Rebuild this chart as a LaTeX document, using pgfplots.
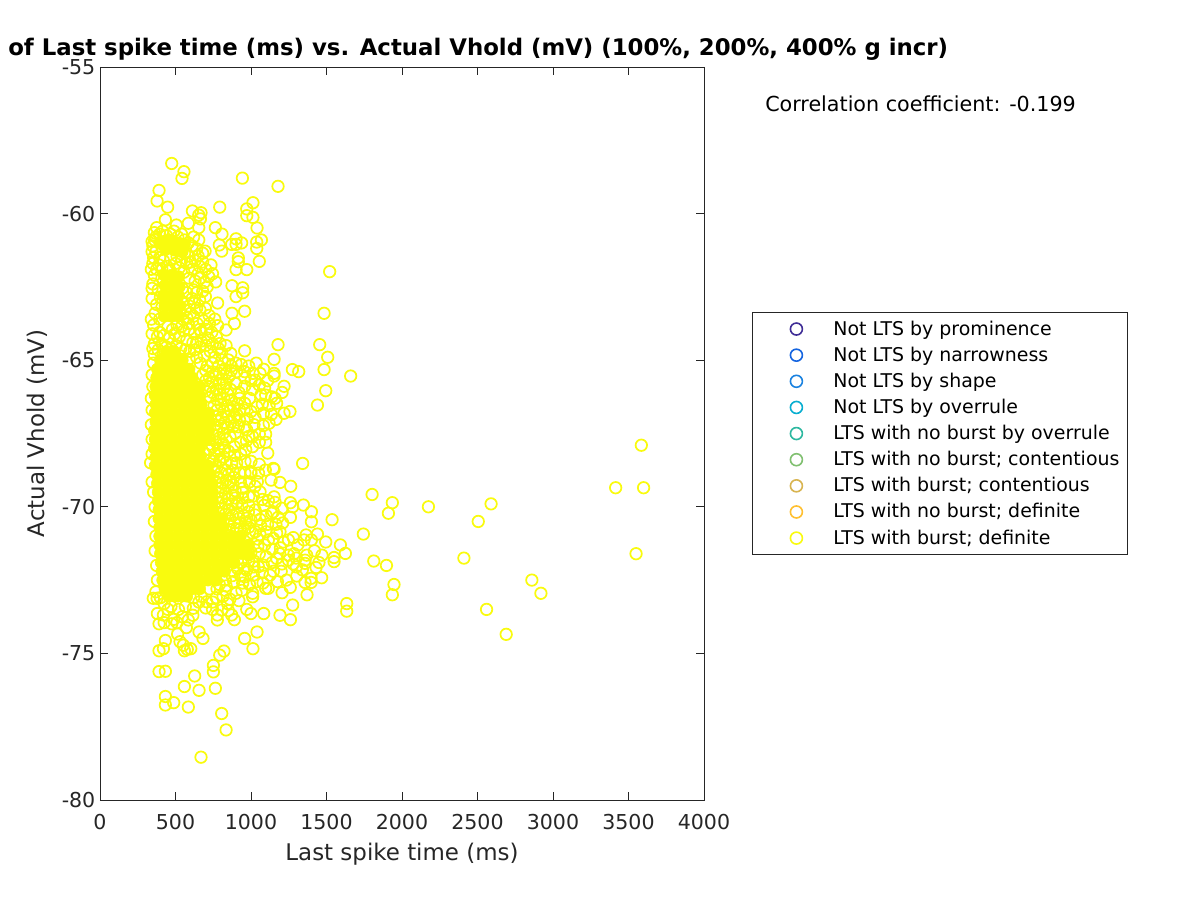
\documentclass[border=0pt]{standalone}
\usepackage{fontspec}
\setmainfont{DejaVu Sans}
\usepackage{pgfplots}
\pgfplotsset{compat=1.18}
\definecolor{txt}{HTML}{262626}
\definecolor{c1}{HTML}{3F2D96}
\definecolor{c2}{HTML}{1464E0}
\definecolor{c3}{HTML}{1A82E0}
\definecolor{c4}{HTML}{08AED0}
\definecolor{c5}{HTML}{2DB8A0}
\definecolor{c6}{HTML}{80C070}
\definecolor{c7}{HTML}{D8B450}
\definecolor{c8}{HTML}{FFC030}
\definecolor{c9}{HTML}{F9FB0E}
% 1 px of the reference = 0.75pt
\begin{document}
\begin{tikzpicture}[x=0.75pt,y=0.75pt]
\useasboundingbox (-100,-100) rectangle (1100,800);
\begin{axis}[
    at={(0,0)},anchor=south west,
    scale only axis,
    width=453pt,height=549.75pt,
    xmin=0,xmax=4000,ymin=-80,ymax=-55,
    xtick={0,500,...,4000},
    ytick={-80,-75,-70,-65,-60,-55},
    tick align=inside,
    major tick length=6pt,
    axis line style={color=txt,line width=0.6pt},
    every tick/.style={color=txt,line width=0.6pt},
    tick label style={font=\fontsize{15.4}{18}\selectfont,color=txt},
    xticklabel style={yshift=-7pt},
    /pgf/number format/assume math mode=true,
    /pgf/number format/1000 sep={},
    xlabel={Last spike time (ms)},
    ylabel={Actual Vhold (mV)},
    label style={font=\fontsize{17.2}{20}\selectfont,color=txt},
    xlabel style={yshift=-3.5pt},
    ylabel style={yshift=3.5pt},
    legend style={
        at={(1.0795,0.6658)},anchor=north west,
        font=\fontsize{14.2}{16}\selectfont,
        draw=txt,line width=0.6pt,
        inner xsep=5pt,inner ysep=4.5pt,
        row sep=3.6pt,
        nodes={inner sep=1pt,text height=11.5pt,text depth=2.5pt},
    },
    legend cell align=left,
    legend image code/.code={\path[draw=none,fill=none] (0pt,0pt)--(54.75pt,0pt);\draw[#1] plot coordinates {(28pt,0pt)};},
]
\addlegendimage{only marks,mark=o,mark size=4.5pt,c1,line width=1.2pt}
\addlegendentry{Not LTS by prominence}
\addlegendimage{only marks,mark=o,mark size=4.5pt,c2,line width=1.2pt}
\addlegendentry{Not LTS by narrowness}
\addlegendimage{only marks,mark=o,mark size=4.5pt,c3,line width=1.2pt}
\addlegendentry{Not LTS by shape}
\addlegendimage{only marks,mark=o,mark size=4.5pt,c4,line width=1.2pt}
\addlegendentry{Not LTS by overrule}
\addlegendimage{only marks,mark=o,mark size=4.5pt,c5,line width=1.2pt}
\addlegendentry{LTS with no burst by overrule}
\addlegendimage{only marks,mark=o,mark size=4.5pt,c6,line width=1.2pt}
\addlegendentry{LTS with no burst; contentious}
\addlegendimage{only marks,mark=o,mark size=4.5pt,c7,line width=1.2pt}
\addlegendentry{LTS with burst; contentious}
\addlegendimage{only marks,mark=o,mark size=4.5pt,c8,line width=1.2pt}
\addlegendentry{LTS with no burst; definite}
\addlegendimage{only marks,mark=o,mark size=4.5pt,c9,line width=1.2pt}
\addlegendentry{LTS with burst; definite}

% the packed part of the cloud, where single rings cannot be told apart
\addplot[forget plot,only marks,mark=*,mark size=4.5pt,color=c9,mark options={fill=c9}] coordinates {
(395,-61)(420,-60.95)(470,-60.9)(520,-61)(560,-61.05)(440,-61.2)(495,-61.25)(545,-61.3)
(425,-62.1)(475,-62.1)(520,-62.15)(430,-62.45)(480,-62.45)(525,-62.5)
(420,-62.8)(470,-62.8)(520,-62.8)(430,-63.15)(480,-63.15)(530,-63.15)
(425,-63.5)(475,-63.5)(520,-63.5)
(440,-64.7)(490,-64.7)
(400,-65)(450,-65)(500,-65)(545,-65)
(380,-65.3)(430,-65.3)(485,-65.3)(540,-65.3)(590,-65.3)
(375,-65.6)(435,-65.6)(495,-65.6)(555,-65.6)(610,-65.6)
(370,-65.9)(430,-65.9)(490,-65.9)(550,-65.9)(610,-65.9)(660,-65.9)
(365,-66.2)(425,-66.2)(485,-66.2)(545,-66.2)(605,-66.2)(660,-66.2)
(370,-66.5)(430,-66.5)(490,-66.5)(550,-66.5)(610,-66.5)(670,-66.5)
(365,-66.8)(425,-66.8)(485,-66.8)(545,-66.8)(605,-66.8)(665,-66.8)(720,-66.8)
(370,-67.1)(430,-67.1)(490,-67.1)(550,-67.1)(610,-67.1)(670,-67.1)(725,-67.1)
(360,-67.4)(420,-67.4)(480,-67.4)(540,-67.4)(600,-67.4)(660,-67.4)(720,-67.4)
(365,-67.7)(425,-67.7)(485,-67.7)(545,-67.7)(605,-67.7)(665,-67.7)(710,-67.7)
(360,-68)(420,-68)(480,-68)(540,-68)(600,-68)(660,-68)
(370,-68.3)(430,-68.3)(490,-68.3)(550,-68.3)(610,-68.3)(665,-68.3)
(365,-68.6)(425,-68.6)(485,-68.6)(545,-68.6)(605,-68.6)(665,-68.6)(715,-68.6)
(375,-68.9)(435,-68.9)(495,-68.9)(555,-68.9)(615,-68.9)(675,-68.9)(730,-68.9)
(380,-69.2)(440,-69.2)(500,-69.2)(560,-69.2)(620,-69.2)(680,-69.2)(740,-69.2)
(385,-69.5)(445,-69.5)(505,-69.5)(565,-69.5)(625,-69.5)(685,-69.5)(745,-69.5)
(385,-69.8)(445,-69.8)(505,-69.8)(565,-69.8)(625,-69.8)(685,-69.8)(745,-69.8)
(390,-70.1)(450,-70.1)(510,-70.1)(570,-70.1)(630,-70.1)(690,-70.1)(750,-70.1)
(390,-70.4)(450,-70.4)(510,-70.4)(570,-70.4)(630,-70.4)(690,-70.4)(750,-70.4)(805,-70.4)
(395,-70.7)(455,-70.7)(515,-70.7)(575,-70.7)(635,-70.7)(695,-70.7)(755,-70.7)(815,-70.7)
(395,-71)(455,-71)(515,-71)(575,-71)(635,-71)(695,-71)(755,-71)(815,-71)(875,-71)(930,-71)
(395,-71.3)(455,-71.3)(515,-71.3)(575,-71.3)(635,-71.3)(695,-71.3)(755,-71.3)(815,-71.3)(875,-71.3)(935,-71.3)(985,-71.3)
(400,-71.6)(460,-71.6)(520,-71.6)(580,-71.6)(640,-71.6)(700,-71.6)(760,-71.6)(820,-71.6)(880,-71.6)(940,-71.6)(985,-71.65)
(405,-71.9)(465,-71.9)(525,-71.9)(585,-71.9)(645,-71.9)(705,-71.9)(765,-71.9)(825,-71.9)(885,-71.9)
(410,-72.2)(470,-72.2)(530,-72.2)(590,-72.2)(650,-72.2)(710,-72.2)(770,-72.2)(825,-72.2)
(415,-72.5)(475,-72.5)(535,-72.5)(595,-72.5)(655,-72.5)(715,-72.5)(770,-72.5)
(430,-72.8)(490,-72.8)(550,-72.8)(610,-72.8)(660,-72.8)
(455,-73.05)(515,-73.05)(575,-73.05)
};
% single rings
\addplot[forget plot,only marks,mark=o,mark size=4.3pt,color=c9,line width=1.3pt] coordinates {
(3600,-69.35)(3585,-67.9)(3415,-69.35)(3550,-71.6)(2920,-72.95)(2860,-72.5)(2690,-74.35)(2560,-73.5)
(2590,-69.9)(2505,-70.5)(2410,-71.75)(2175,-70)
(475,-58.29)(556,-58.57)(543,-58.8)(943,-58.79)(1179,-59.07)(391,-59.21)(378,-59.57)(448,-59.78)(793,-59.78)
(1013,-59.63)(972,-59.84)(612,-59.91)(669,-59.97)(654,-60.05)(665,-60.18)(972,-60.07)(1013,-60.13)(433,-60.21)
(506,-60.39)(585,-60.33)(654,-60.48)(764,-60.48)(1040,-60.49)(808,-60.7)(375,-60.48)(654,-60.9)(901,-60.86)
(1069,-60.9)(1038,-60.97)(938,-61)(901,-61.05)(790,-61.07)(872,-61.05)(1038,-61.19)(806,-61.28)(696,-61.28)
(1055,-61.63)(916,-61.51)(916,-61.64)(901,-61.91)(972,-61.91)(1521,-61.98)(766,-62.33)(874,-62.46)(945,-62.53)
(945,-62.7)(901,-62.83)(698,-62.83)(779,-63.05)(1484,-63.4)(874,-63.4)(958,-63.33)(722,-63.47)(640,-63.23)
(662,-63.29)(698,-63.23)(890,-63.75)(779,-63.82)(835,-63.97)(643,-63.75)(585,-63.75)
(1179,-64.47)(1455,-64.47)(958,-64.68)(1508,-64.9)(1153,-64.97)(866,-64.77)(795,-64.43)(784,-64.6)(808,-64.99)
(850,-64.99)(1484,-65.32)(1660,-65.54)(1274,-65.32)(1316,-65.39)(1084,-65.31)(1153,-65.45)(1153,-65.54)
(1013,-65.45)(958,-65.39)(1027,-65.68)(905,-65.39)(1219,-65.89)(1206,-66.1)(1495,-66.04)(1440,-66.53)(958,-65.89)
(1066,-66.18)(1097,-66.19)(1137,-66.25)(1170,-66.47)(1159,-66.3)(958,-66.47)(1040,-66.59)(1258,-66.75)(1219,-66.81)
(1082,-66.81)(1027,-66.95)(1166,-67.02)(1082,-67.23)(958,-67.27)(916,-67.27)(972,-67.38)(1055,-67.52)(1097,-67.52)
(1055,-67.8)(1097,-67.8)(932,-67.8)(1111,-68.17)(932,-68.2)(861,-67.61)(784,-68.01)(1342,-68.52)(1148,-68.69)
(998,-68.8)(872,-68.52)(795,-68.4)
(1153,-68.72)(1000,-68.86)(1802,-69.58)(1936,-69.86)(1910,-70.22)(1537,-70.44)(1744,-70.93)(1813,-71.85)(1897,-72)
(1947,-72.65)(1936,-73)(1634,-73.3)(1634,-73.56)(1371,-73)(1276,-73.35)(1261,-73.85)(1192,-73.7)(1206,-72.93)
(1084,-73.64)(1000,-73.64)(972,-73.5)(1040,-74.27)(958,-74.49)(1013,-74.84)(890,-73.85)(821,-74.92)(793,-75.06)
(751,-75.41)(751,-75.63)(764,-76.19)(627,-75.77)(559,-76.13)(656,-76.26)(433,-75.61)(391,-75.62)(433,-76.47)
(433,-76.76)(488,-76.68)(585,-76.83)(806,-77.05)(835,-77.61)(669,-78.54)(391,-74.91)(420,-74.84)(433,-74.56)
(514,-74.34)(530,-74.6)(552,-74.72)(559,-74.91)(601,-74.84)(578,-74.86)(656,-74.27)(682,-74.49)(572,-74.12)
(585,-73.86)(391,-73.99)(475,-73.99)(488,-73.84)(777,-73.86)(777,-73.69)(850,-73.54)(872,-73.69)(806,-73.52)
(353,-73.12)(378,-73.12)(380,-73.64)(420,-73.69)(618,-73.46)(707,-73.24)(901,-72.95)(1011,-72.95)(1011,-73.07)
(1097,-72.78)(1115,-72.78)(1303,-72.36)(1358,-72.58)(1398,-72.58)(1398,-72.44)(1468,-72.42)(1431,-72.07)
(1358,-71.82)(1358,-71.93)(1369,-71.65)(1550,-71.87)(1550,-71.73)(1592,-71.3)(1625,-71.59)(1495,-71.2)(1440,-70.93)
(1400,-71.13)(1351,-71.13)(1365,-70.96)(1400,-70.17)(1400,-70.51)(1347,-69.94)(1276,-70)(1261,-69.86)(1261,-70.36)
(1179,-70.36)(1148,-70.17)(1137,-70.22)(1248,-71.13)(1192,-70.85)(1148,-71.08)(1170,-70.9)(1115,-71.13)(1248,-71.65)
(1248,-71.82)(1170,-71.76)(1148,-72.2)(1126,-72.33)(1049,-72.04)(1082,-71.99)(1016,-72.33)(960,-72.39)(972,-72.16)
(1133,-69.09)(1192,-69.17)(1263,-69.3)(1042,-69.14)(1027,-69.3)(1060,-69.49)(945,-69.37)(945,-69.51)(1153,-69.66)
(1115,-69.79)(1016,-69.63)(1027,-70.11)(1027,-70.28)(1060,-70.43)(983,-70.17)(972,-70.39)(905,-69.88)
% denser rings at the rim of the cloud
(362,-60.9)(350,-61.1)(345,-61.3)(355,-61.5)(370,-60.8)(395,-60.7)(415,-60.6)(440,-60.75)(465,-60.7)(490,-60.6)
(515,-60.8)(540,-60.7)(560,-60.9)(585,-61)(610,-61.1)(640,-61.2)(680,-61.35)(620,-60.8)(650,-61.45)(400,-61)(425,-61.1)
(370,-61.3)(395,-61.5)(350,-61.7)(375,-61.9)(360,-62.1)(410,-62.2)(350,-62.4)(385,-62.6)(345,-62.9)(375,-63.1)
(365,-63.4)(395,-63.6)(355,-63.8)(345,-64.1)(380,-64.2)(360,-64.45)(395,-64.05)(410,-63.2)(400,-62.85)
(540,-61.6)(575,-61.7)(610,-61.9)(555,-62)(590,-62.2)(630,-62.3)(545,-62.55)(575,-62.7)(610,-62.9)(545,-63)
(565,-63.3)(600,-63.4)(550,-63.6)(590,-63.95)(625,-64.1)(555,-64)(575,-64.3)(615,-64.4)(660,-64.55)(700,-64.5)
(640,-64.9)(690,-64.85)(730,-64.7)(760,-64.9)(620,-62.6)(665,-62.2)(710,-62.5)(660,-61.8)(700,-61.9)
(665,-65.1)(710,-65.2)(745,-65.1)(785,-65.2)(825,-65.3)(870,-65.2)(680,-65.5)(725,-65.6)(770,-65.5)(810,-65.65)(855,-65.55)
(900,-65.8)(725,-65.9)(770,-66)(820,-65.95)(865,-66)(920,-66.1)(730,-66.25)(775,-66.35)(820,-66.3)(870,-66.35)(910,-66.5)
(775,-66.7)(820,-66.75)(865,-66.7)(905,-66.85)(780,-67.05)(825,-67.15)(870,-67.1)(770,-67.4)(815,-67.5)(725,-67.7)
(770,-67.8)(815,-67.85)(725,-68.05)(760,-68.2)(730,-68.4)(775,-68.65)(830,-68.75)(785,-69)(835,-69.1)(885,-69)(925,-68.85)
(800,-69.35)(850,-69.3)(895,-69.45)(805,-69.7)(850,-69.75)(805,-70.05)(855,-70.1)(910,-70.2)(860,-70.4)(925,-70.55)
(930,-70.75)(985,-70.7)(1030,-70.85)(1045,-71.1)(1060,-70.95)(1045,-71.35)(1090,-71.3)(1000,-71.55)(1055,-71.6)
(985,-71.85)(885,-71.9)(935,-71.9)(885,-72.2)(930,-72.35)(830,-72.5)(885,-72.55)(775,-72.8)(725,-72.8)(830,-72.85)
(355,-65.1)(345,-65.5)(350,-65.9)(340,-66.3)(345,-66.7)(340,-67.2)(345,-67.7)(335,-68.5)(345,-68.2)(345,-69.15)
(355,-69.5)(365,-70)(360,-70.5)(370,-71)(365,-71.5)(375,-72)(380,-72.5)(370,-72.9)(400,-73.1)(425,-73.3)(470,-73.4)
(520,-73.5)(565,-73.4)(620,-73.1)(670,-73.05)
% more rings filling the thinner parts of the cloud
(390,-61.75)(420,-61.6)(445,-61.8)(470,-61.55)(500,-61.7)(525,-61.85)(410,-61.9)(465,-61.95)(510,-61.45)(560,-61.35)
(590,-61.45)(630,-61.6)(600,-61.65)(680,-61.65)(735,-61.75)(745,-62.05)(720,-62.15)(650,-62.05)(690,-62.35)(640,-62.7)
(680,-62.65)(660,-62.95)(625,-63.05)(590,-63.15)(620,-63.5)(575,-63.55)(540,-63.85)(510,-63.8)(480,-63.95)(450,-63.85)
(425,-64.15)(460,-64.25)(495,-64.1)(525,-64.2)(410,-64.45)(440,-64.55)(470,-64.6)(505,-64.5)(535,-64.6)(565,-64.65)
(595,-64.7)(385,-64.65)(360,-64.8)(420,-64.8)(480,-64.85)(530,-64.85)(590,-64.95)(625,-64.65)(670,-64.35)(715,-64.25)
(745,-64.45)(670,-64.05)(705,-63.95)(740,-64.05)(770,-64.2)(725,-63.75)(685,-63.65)(660,-63.95)(760,-63.6)(640,-64.4)
(805,-64.75)(835,-64.5)(870,-65.35)(900,-65.1)(935,-65.15)(985,-65.2)(1035,-65.1)(1060,-65.45)(1110,-65.7)(1000,-65.7)
(960,-65.6)(1055,-65.85)(1090,-65.95)(1010,-66)(925,-66.3)(990,-66.3)(955,-66.7)(1000,-66.75)(925,-66.7)(1075,-66.5)
(1120,-66.55)(1135,-66.85)(975,-67)(925,-67.05)(1020,-67.2)(1120,-67.15)(985,-67.6)(895,-67.5)(1010,-67.6)(890,-67.95)
(970,-67.75)(1010,-67.95)(965,-68.05)(890,-68.25)(850,-68.1)(820,-68.3)(835,-68.5)(905,-68.5)(960,-68.45)(1000,-68.45)
(1055,-68.55)(1095,-68.75)(1050,-68.85)(960,-68.85)(880,-68.75)(990,-69.15)(930,-69.15)(880,-69.25)(895,-69.7)(945,-69.7)
(985,-69.65)(1075,-69.75)(1160,-69.85)(1085,-69.95)(1205,-70.05)(940,-69.95)(985,-69.95)(1100,-70.3)(1165,-70.6)(1110,-70.6)
(1210,-70.55)(1065,-70.65)(1000,-70.45)(950,-70.3)(890,-70.55)(1100,-70.85)(1215,-71.2)(1280,-71.05)(1310,-71.3)(1285,-71.6)
(1195,-71.4)(1140,-71.45)(1190,-71.6)(1100,-71.7)(1140,-71.9)(1205,-71.95)(1020,-71.85)(1300,-71.75)(1280,-71.95)(1300,-72.05)
(1200,-72.2)(1075,-72.25)(1020,-72.05)(945,-72.6)(990,-72.65)(1040,-72.55)(1080,-72.6)(1175,-72.55)(1235,-72.5)(1260,-72.75)
(1340,-72.15)(1420,-71.5)(1470,-71.65)(1450,-71.9)(940,-72.85)(860,-73.15)(815,-73.05)(770,-73.1)(745,-73.25)(920,-73.2)
(845,-73.3)(655,-73.25)(615,-73.7)(545,-73.75)(510,-73.95)(450,-73.5)(425,-73.95)(700,-73.45)(745,-73.5)
(350,-64.6)(340,-63.6)(345,-62.55)(340,-61.9)(345,-60.95)(360,-60.65)
(700,-65.35)(745,-65.4)(790,-65.45)(835,-65.45)(700,-65.7)(745,-65.75)(790,-65.8)(835,-65.8)(700,-66.05)(745,-66.1)(795,-66.15)(845,-66.15)
(755,-66.55)(800,-66.5)(845,-66.55)(885,-66.6)(765,-66.9)(805,-66.95)(850,-66.9)(890,-66.95)(760,-67.2)(800,-67.25)(845,-67.3)(885,-67.25)
(750,-67.55)(790,-67.65)(835,-67.7)(745,-67.95)(790,-68.05)(825,-68)(700,-68.2)(745,-68.45)(790,-68.45)(755,-68.8)(800,-68.85)(850,-68.9)
(770,-69.15)(810,-69.2)(865,-69.15)(780,-69.5)(830,-69.55)(875,-69.6)(785,-69.85)(830,-69.9)(875,-69.9)(785,-70.2)(830,-70.25)(880,-70.3)
(850,-70.6)(905,-70.75)(955,-70.8)(1010,-70.9)(920,-70.4)(965,-70.55)(875,-72.35)(835,-72.7)(790,-72.65)(910,-72.1)(955,-72.1)
};
\end{axis}
\node[anchor=west,font=\bfseries\fontsize{17.12}{20}\selectfont,inner sep=0pt] at (-92,751) {of Last spike time (ms) vs. Actual Vhold (mV) (100\%, 200\%, 400\% g incr)};
\node[anchor=west,font=\fontsize{15.5}{18}\selectfont,inner sep=0pt] at (665,696) {Correlation coefficient: -0.199};
\end{tikzpicture}
\end{document}
